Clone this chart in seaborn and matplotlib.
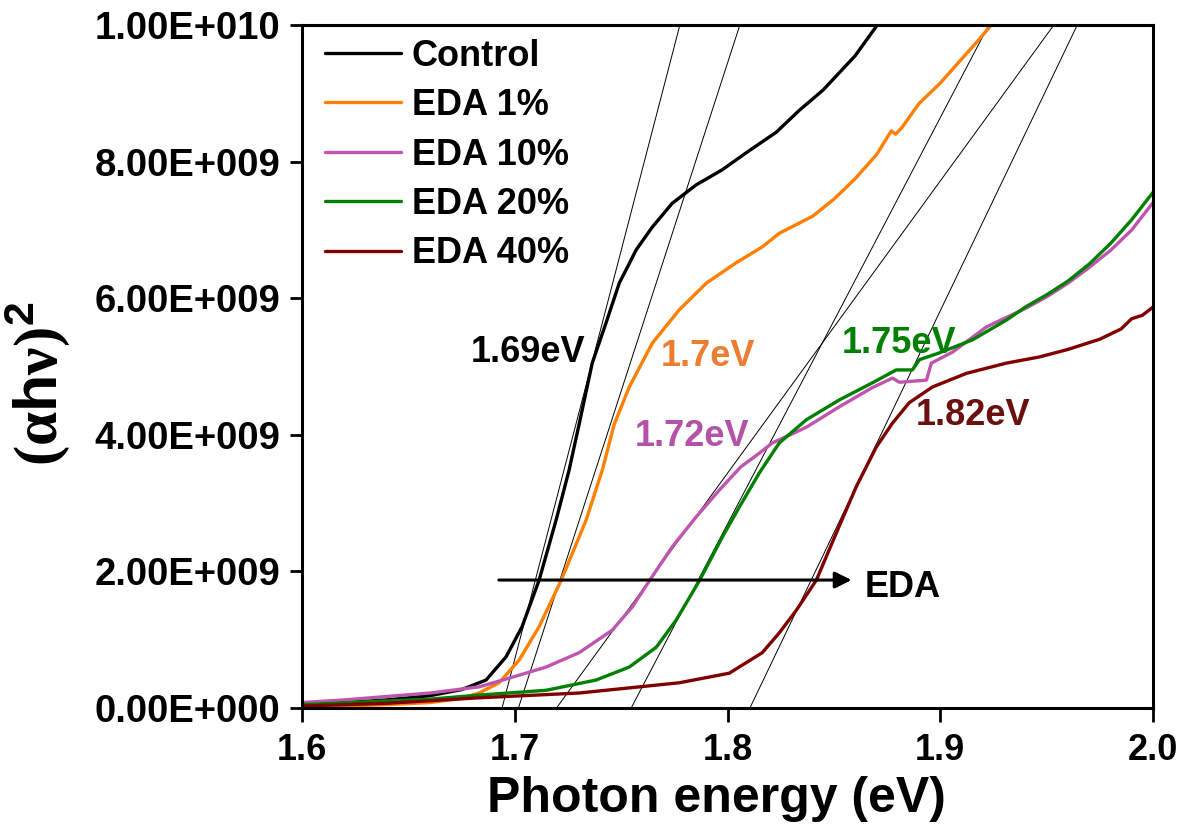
import numpy as np
import pandas as pd
import seaborn as sns
import matplotlib
matplotlib.use("Agg")
import matplotlib.pyplot as plt
from matplotlib.ticker import FuncFormatter

# curves, photon energy (eV) and (ahv)^2 in units of 1e9
e_control = [1.60, 1.62, 1.64, 1.66, 1.675, 1.6865, 1.6959, 1.7034, 1.7114, 1.7194, 1.7255, 1.7302,
             1.7364, 1.7429, 1.7491, 1.7571, 1.7646, 1.7740, 1.7853, 1.7975, 1.8088, 1.8229, 1.8337,
             1.845, 1.8525, 1.86, 1.8704]
v_control = [0.05, 0.08, 0.12, 0.18, 0.27, 0.41, 0.75, 1.19, 1.87, 2.75, 3.48, 4.15,
             5.05, 5.64, 6.22, 6.71, 7.04, 7.39, 7.66, 7.88, 8.13, 8.43, 8.75,
             9.05, 9.3, 9.55, 10.0]

e_eda1 = [1.60, 1.62, 1.64, 1.66, 1.675, 1.6832, 1.6926, 1.7020, 1.7114, 1.7218, 1.7335, 1.7411, 1.7467,
          1.7538, 1.7646, 1.7773, 1.7900, 1.8041, 1.8163, 1.8243, 1.84, 1.85, 1.86, 1.87, 1.877,
          1.879, 1.882, 1.89, 1.90, 1.91, 1.918, 1.924]
v_eda1 = [0.02, 0.03, 0.05, 0.08, 0.14, 0.22, 0.37, 0.70, 1.19, 1.87, 2.75, 3.48, 4.15,
          4.70, 5.34, 5.83, 6.22, 6.52, 6.75, 6.95, 7.2, 7.45, 7.75, 8.1, 8.45,
          8.4, 8.5, 8.85, 9.15, 9.5, 9.78, 10.0]

e_eda10 = [1.60, 1.62, 1.64, 1.66, 1.6832, 1.6987, 1.7147, 1.7302, 1.7458, 1.7552, 1.7632, 1.7740, 1.7853,
           1.7961, 1.8062, 1.8149, 1.8210, 1.8370, 1.8525, 1.8680, 1.8775, 1.8808, 1.8935, 1.8958,
           1.9057, 1.9217, 1.94, 1.95, 1.96, 1.97, 1.98, 1.99, 2.0]
v_eda10 = [0.08, 0.12, 0.17, 0.22, 0.31, 0.45, 0.60, 0.81, 1.14, 1.48, 1.86, 2.36, 2.80,
           3.19, 3.53, 3.73, 3.88, 4.11, 4.41, 4.69, 4.83, 4.77, 4.80, 5.05,
           5.21, 5.58, 5.85, 6.02, 6.22, 6.45, 6.7, 7.0, 7.4]

e_eda20 = [1.60, 1.63, 1.66, 1.6832, 1.7147, 1.7382, 1.7538, 1.7665, 1.7759, 1.7867, 1.7975, 1.8055,
           1.8149, 1.8243, 1.8370, 1.8525, 1.8680, 1.8793, 1.8869, 1.8902, 1.8996, 1.9151, 1.9311,
           1.94, 1.95, 1.96, 1.97, 1.98, 1.99, 2.0]
v_eda20 = [0.05, 0.09, 0.13, 0.19, 0.26, 0.41, 0.60, 0.89, 1.29, 1.86, 2.50, 2.94,
           3.44, 3.88, 4.22, 4.51, 4.76, 4.95, 4.95, 5.10, 5.20, 5.39, 5.68,
           5.87, 6.05, 6.25, 6.5, 6.8, 7.15, 7.55]

e_eda40 = [1.60, 1.64, 1.6832, 1.7302, 1.7773, 1.8008, 1.8163, 1.8243, 1.8323, 1.8417, 1.8511, 1.8605,
           1.8699, 1.8775, 1.8854, 1.8963, 1.9123, 1.9311, 1.9466, 1.96, 1.975, 1.985, 1.99, 1.995, 2.0]
v_eda40 = [0.03, 0.07, 0.15, 0.22, 0.37, 0.51, 0.81, 1.10, 1.43, 1.87, 2.56, 3.24,
           3.82, 4.17, 4.47, 4.70, 4.90, 5.05, 5.14, 5.25, 5.4, 5.55, 5.7, 5.75, 5.87]

samples = ["Control", "EDA 1%", "EDA 10%", "EDA 20%", "EDA 40%"]
line_colors = ["#000000", "#FF8000", "#BF55AE", "#008000", "#800000"]
label_colors = ["#000000", "#ED7D31", "#B352A6", "#008000", "#6B0F0F"]

# Tauc fit lines: energy where they hit 0 and where they hit 1e10
fit_start = [1.694, 1.7017, 1.7196, 1.7547, 1.8105]
fit_end = [1.7776, 1.8058, 1.9534, 1.9228, 1.9644]

gap_labels = ["1.69eV", "1.7eV", "1.72eV", "1.75eV", "1.82eV"]
gap_x = [1.6794, 1.7687, 1.7566, 1.8539, 1.8883]
gap_y = [5.21, 5.14, 3.97, 5.34, 4.29]

frames = []
for name, e, v in zip(samples, [e_control, e_eda1, e_eda10, e_eda20, e_eda40],
                      [v_control, v_eda1, v_eda10, v_eda20, v_eda40]):
    frames.append(pd.DataFrame({"energia": e, "valor": np.array(v) * 1e9, "amostra": name}))
df = pd.concat(frames, ignore_index=True)

sns.set_style("ticks")
plt.rcParams["font.family"] = ["Liberation Sans", "DejaVu Sans"]
plt.rcParams["font.weight"] = "bold"
for k in ["text.color", "axes.labelcolor", "xtick.color", "ytick.color", "axes.edgecolor"]:
    plt.rcParams[k] = "black"
plt.rcParams["mathtext.fontset"] = "custom"
plt.rcParams["mathtext.rm"] = "Liberation Serif"
plt.rcParams["mathtext.bf"] = "Liberation Sans:bold"

fig = plt.figure(figsize=(11.85, 8.33), dpi=100)
ax = fig.add_axes([0.2549, 0.15, 0.7181, 0.82])

for a, b in zip(fit_start, fit_end):
    ax.plot([a, b], [0, 1e10], color="black", lw=0.7, zorder=1)

sns.lineplot(data=df, x="energia", y="valor", hue="amostra", palette=line_colors,
             estimator=None, sort=False, lw=2.4, ax=ax, zorder=2)

for txt, x, y, c in zip(gap_labels, gap_x, gap_y, label_colors):
    ax.text(x, y * 1e9, txt, color=c, fontsize=26, fontweight="bold", ha="left", va="center")

ax.annotate("", xy=(1.8596, 1.874e9), xytext=(1.6912, 1.874e9),
            arrowprops=dict(arrowstyle="-|>", color="black", lw=2.2, mutation_scale=25))
ax.text(1.8643, 1.76e9, "EDA", fontsize=26, fontweight="bold", ha="left", va="center")

ax.set_xlim(1.6, 2.0)
ax.set_ylim(0, 1e10)
ax.set_xticks([1.6, 1.7, 1.8, 1.9, 2.0])
ax.set_yticks(np.arange(0, 1.01e10, 2e9))


def formato(v, pos):
    if v == 0:
        return "0.00E+000"
    exp = int(np.floor(np.log10(abs(v))))
    return f"{v / 10**exp:.2f}E+{exp:03d}"


ax.yaxis.set_major_formatter(FuncFormatter(formato))
ax.tick_params(axis="y", length=8.5, width=2, pad=7, labelsize=27.5)
ax.tick_params(axis="x", length=10, width=2, pad=8, labelsize=26)
for lab in ax.get_xticklabels() + ax.get_yticklabels():
    lab.set_fontweight("bold")
for s in ax.spines.values():
    s.set_linewidth(2.2)

ax.set_xlabel("Photon energy (eV)", fontsize=36, fontweight="bold")
ax.set_ylabel(r"$(\mathrm{\alpha}\mathbf{h}\mathrm{\nu})^{\mathbf{2}}$", fontsize=44)
ax.xaxis.set_label_coords(0.487, -0.1)
ax.yaxis.set_label_coords(-0.27, 0.474)

handles, labels = ax.get_legend_handles_labels()
ax.legend(handles, labels, loc="upper left", bbox_to_anchor=(0.027, 0.98), frameon=False,
          handlelength=2.1, handletextpad=0.3, labelspacing=0.4,
          borderpad=0, borderaxespad=0, prop={"weight": "bold", "size": 26})

fig.savefig("out.png", dpi=100)
